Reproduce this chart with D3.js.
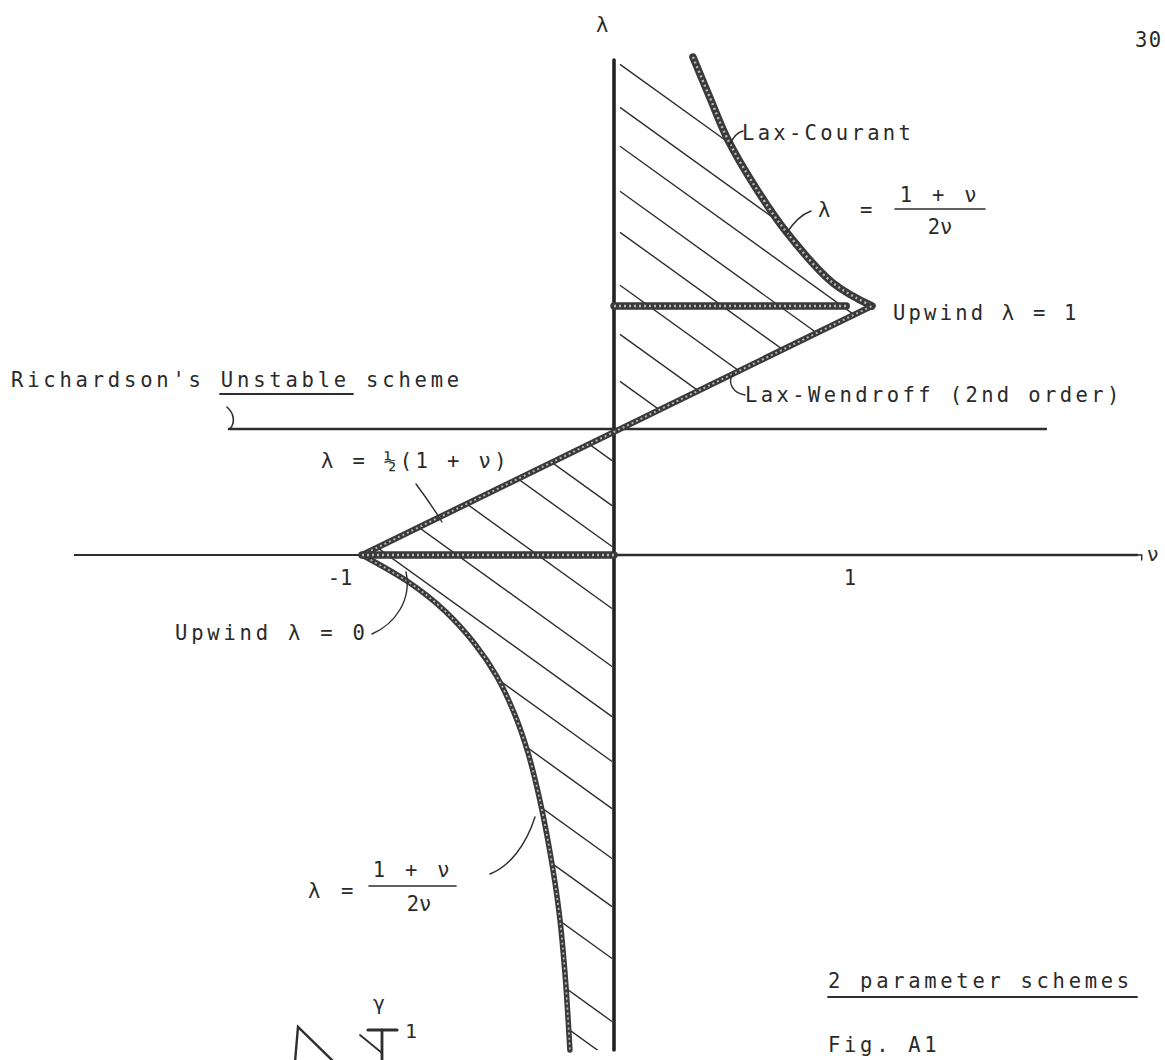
<!DOCTYPE html>
<html>
<head>
<meta charset="utf-8">
<script src="https://cdn.jsdelivr.net/npm/d3@7"></script>
<style>
  body { margin: 0; background: #fff; }
  svg text { font-family: "DejaVu Sans Mono", "Liberation Mono", monospace; fill: #2a2a2a; }
</style>
</head>
<body>
<svg id="fig" width="1165" height="1060"></svg>
<script>
// Two-parameter schemes: stability regions in the (nu, lambda) plane

// Lax-Courant boundary, nu > 0 branch (nu, lambda)
const courantUpperNu  = [0.306, 0.372, 0.442, 0.550, 0.671, 0.849, 1.0];
const courantUpperLam = [2.012, 1.846, 1.675, 1.480, 1.297, 1.093, 1.0];
// nu < 0 branch
const courantLowerNu  = [-1.0, -0.810, -0.671, -0.552, -0.464, -0.393, -0.341, -0.298, -0.254, -0.218, -0.194, -0.175];
const courantLowerLam = [0.0, -0.111, -0.222, -0.353, -0.484, -0.635, -0.786, -0.956, -1.179, -1.417, -1.667, -1.964];
// Lax-Wendroff line lambda = (1 + nu)/2
const laxWendroffNu  = [-1, 1];
const laxWendroffLam = [0, 1];
// Upwind segments
const upwindOneNu  = [0, 0.9];
const upwindOneLam = [1, 1];
const upwindZeroNu  = [-1, 0];
const upwindZeroLam = [0, 0];
// Richardson's scheme
const richardsonNu  = [-1.532, 1.678];
const richardsonLam = [0.5, 0.5];
// Axis extents
const nuAxisRange  = [-2.143, 2.03];
const lamAxisRange = [2.0, -1.964];
const tickValues = [-1, 1];
const tickLabels = ["-1", "1"];
// Hatching: lambda where each hatch stroke meets the lambda axis
const hatchUpperLam = [2.0, 1.825, 1.667, 1.484, 1.317, 1.102, 0.902, 0.711];
const hatchLowerLam = [0.369, 0.190, 0.028, -0.218, -0.448, -0.647, -0.825, -1.012, -1.210, -1.401, -1.607, -1.857, -2.012];

const svg = d3.select("#fig");
// freehand drawing: each half-unit gets its own length
const x = d3.scaleLinear().domain([-1, 0, 1]).range([362, 614, 872]);
const y = d3.scaleLinear().domain([0, 0.5, 1]).range([555, 429, 306]);

const zip = (a, b) => a.map((v, i) => [v, b[i]]);
const line = d3.line().x(d => x(d[0])).y(d => y(d[1]));
const smooth = d3.line().x(d => x(d[0])).y(d => y(d[1])).curve(d3.curveCatmullRom.alpha(0.5));
const pt = (nu, lam) => `${x(nu)},${y(lam)}`;

const ink = "#2e2e2e";
const upperCurve = zip(courantUpperNu, courantUpperLam);
const lowerCurve = zip(courantLowerNu, courantLowerLam);

// --- hatched regions -------------------------------------------------------
// upper: lambda axis, Lax-Wendroff line, then back up the Lax-Courant curve
const upperClip = `M${pt(0, lamAxisRange[0])}L${pt(0, 0.5)}L${pt(1, 1)}` +
  smooth(upperCurve.slice().reverse()).replace(/^M/, "L") + "Z";
// lower: Lax-Wendroff line, down the Lax-Courant curve, back up the axis
const lowerClip = `M${pt(0, 0.5)}L${pt(-1, 0)}` +
  smooth(lowerCurve).replace(/^M/, "L") + `L${pt(0, lamAxisRange[1])}Z`;

const defs = svg.append("defs");
defs.append("clipPath").attr("id", "clipUpper").append("path").attr("d", upperClip);
defs.append("clipPath").attr("id", "clipLower").append("path").attr("d", lowerClip);

const slope = 0.72;
function hatch(lams, clip, gap) {
  const g = svg.append("g").attr("clip-path", `url(#${clip})`);
  g.selectAll("line").data(lams).join("line")
    .attr("x1", d => gap > 0 ? x(0) + gap : x(0) - 400)
    .attr("y1", d => gap > 0 ? y(d) + gap * slope : y(d) - 400 * slope)
    .attr("x2", d => gap > 0 ? x(0) + 400 : x(0) - 2)
    .attr("y2", d => gap > 0 ? y(d) + 400 * slope : y(d) - 2 * slope)
    .attr("stroke", ink).attr("stroke-width", 1.4);
}
hatch(hatchUpperLam, "clipUpper", 6);
hatch(hatchLowerLam, "clipLower", 0);

// --- axes ------------------------------------------------------------------
svg.append("path")
  .attr("d", line([[nuAxisRange[0], 0], [0, 0]]))
  .attr("stroke", ink).attr("stroke-width", 2).attr("fill", "none");
svg.append("path")
  .attr("d", line([[0, 0], [nuAxisRange[1], 0]]))
  .attr("stroke", ink).attr("stroke-width", 2.6).attr("fill", "none");
svg.append("path")
  .attr("d", line([[0, lamAxisRange[0]], [0, lamAxisRange[1]]]))
  .attr("stroke", "#222").attr("stroke-width", 3.6).attr("fill", "none")
  .attr("stroke-linecap", "round");

// Richardson's line
svg.append("path")
  .attr("d", line(zip(richardsonNu, richardsonLam)))
  .attr("stroke", ink).attr("stroke-width", 2.6).attr("fill", "none");

// --- thick boundaries ------------------------------------------------------
function heavy(pathD, w) {
  svg.append("path").attr("d", pathD).attr("fill", "none")
    .attr("stroke", "#3a3a3a").attr("stroke-width", w)
    .attr("stroke-linecap", "round").attr("stroke-linejoin", "round");
  svg.append("path").attr("d", pathD).attr("fill", "none")
    .attr("stroke", "#b8b8b8").attr("stroke-width", w * 0.32)
    .attr("stroke-dasharray", "2 3").attr("stroke-linecap", "butt");
}
heavy(smooth(upperCurve), 7.5);
heavy(smooth(lowerCurve), 5.5);
heavy(line(zip(laxWendroffNu, laxWendroffLam)), 6);
heavy(line(zip(upwindOneNu, upwindOneLam)), 7.5);
heavy(line(zip(upwindZeroNu, upwindZeroLam)), 7.5);

// --- text ------------------------------------------------------------------
function label(txt, px, py, opts = {}) {
  return svg.append("text").attr("x", px).attr("y", py)
    .attr("font-size", opts.size || 20.5)
    .attr("letter-spacing", opts.ls !== undefined ? opts.ls : 3.8)
    .attr("text-anchor", opts.anchor || "start")
    .text(txt);
}
const thin = (d, w = 1.5) => svg.append("path").attr("d", d).attr("fill", "none")
  .attr("stroke", ink).attr("stroke-width", w).attr("stroke-linecap", "round");

label("30", 1135, 47, { ls: 1.5 });
label("λ", x(0) - 18, 32, { ls: 0 });

// tick labels
svg.selectAll("text.tick").data(tickValues).join("text").attr("class", "tick")
  .attr("x", d => x(d) - 22).attr("y", y(0) + 30)
  .attr("text-anchor", "middle").attr("font-size", 20.5)
  .text((d, i) => tickLabels[i]);
label("ν", x(nuAxisRange[1]) + 9, y(0) + 6, { ls: 0, size: 20 });
thin(`M${x(nuAxisRange[1]) - 3},${y(0)}L${x(nuAxisRange[1]) + 4},${y(0)}L${x(nuAxisRange[1]) + 4},${y(0) + 5}`, 1.4);

// Lax-Courant
label("Lax-Courant", 742, 140, { ls: 3.3 });
thin("M729,146 C733,137 737,132 743,131");

// upper formula
label("λ", 818, 217, { ls: 0 });
label("=", 860, 217, { ls: 0 });
label("1 + ν", 940, 202, { anchor: "middle", ls: 3.8 });
thin("M895,209L985,209", 1.6);
label("2ν", 940, 234, { anchor: "middle", ls: 0 });
thin("M786,234 C793,223 800,215 811,211", 1.4);

// upwind lambda = 1
label("Upwind λ = 1", 893, 320, { ls: 3.2 });

// Richardson
label("Richardson's Unstable scheme", 11, 387, { ls: 3.8 });
thin("M220,394L353,394", 1.8);
thin(`M${x(richardsonNu[0]) - 1},${y(0.5) - 22} C${x(richardsonNu[0]) + 7},${y(0.5) - 15} ${x(richardsonNu[0]) + 7},${y(0.5) - 6} ${x(richardsonNu[0]) + 2},${y(0.5)}`, 1.6);

// Lax-Wendroff
label("Lax-Wendroff (2nd order)", 745, 402, { ls: 3.4 });
thin("M733,374 C727,383 733,393 745,395", 1.4);

// lambda = (1+nu)/2
label("λ = ½(1 + ν)", 321, 468, { ls: 3.4 });
thin("M416,484 C425,496 434,509 442,522", 1.4);

// upwind lambda = 0
label("Upwind λ = 0", 175, 640, { ls: 3.8 });
thin("M372,634 C395,624 412,600 406,572", 1.4);

// lower formula
label("λ", 308, 898, { ls: 0 });
label("=", 341, 898, { ls: 0 });
label("1 + ν", 413, 877, { anchor: "middle", ls: 3.8 });
thin("M369,886L456,886", 1.6);
label("2ν", 419, 911, { anchor: "middle", ls: 0 });
thin("M490,874 C510,866 526,845 535,817", 1.4);

// small sketch at the foot of the page
label("γ", 373, 1010, { ls: 0, size: 20 });
label("1", 405, 1038, { ls: 0, size: 20 });
thin("M368,1030L397,1030", 3.2);
thin("M382,1030L382,1062", 2.8);
thin("M360,1035L382,1053", 1.8);
thin("M295,1062L298,1027L334,1062", 2.4);

// caption
label("2 parameter schemes", 828, 988, { ls: 3.7 });
thin("M828,997L1137,997", 1.8);
label("Fig. A1", 828, 1052, { ls: 3.7 });
</script>
</body>
</html>
